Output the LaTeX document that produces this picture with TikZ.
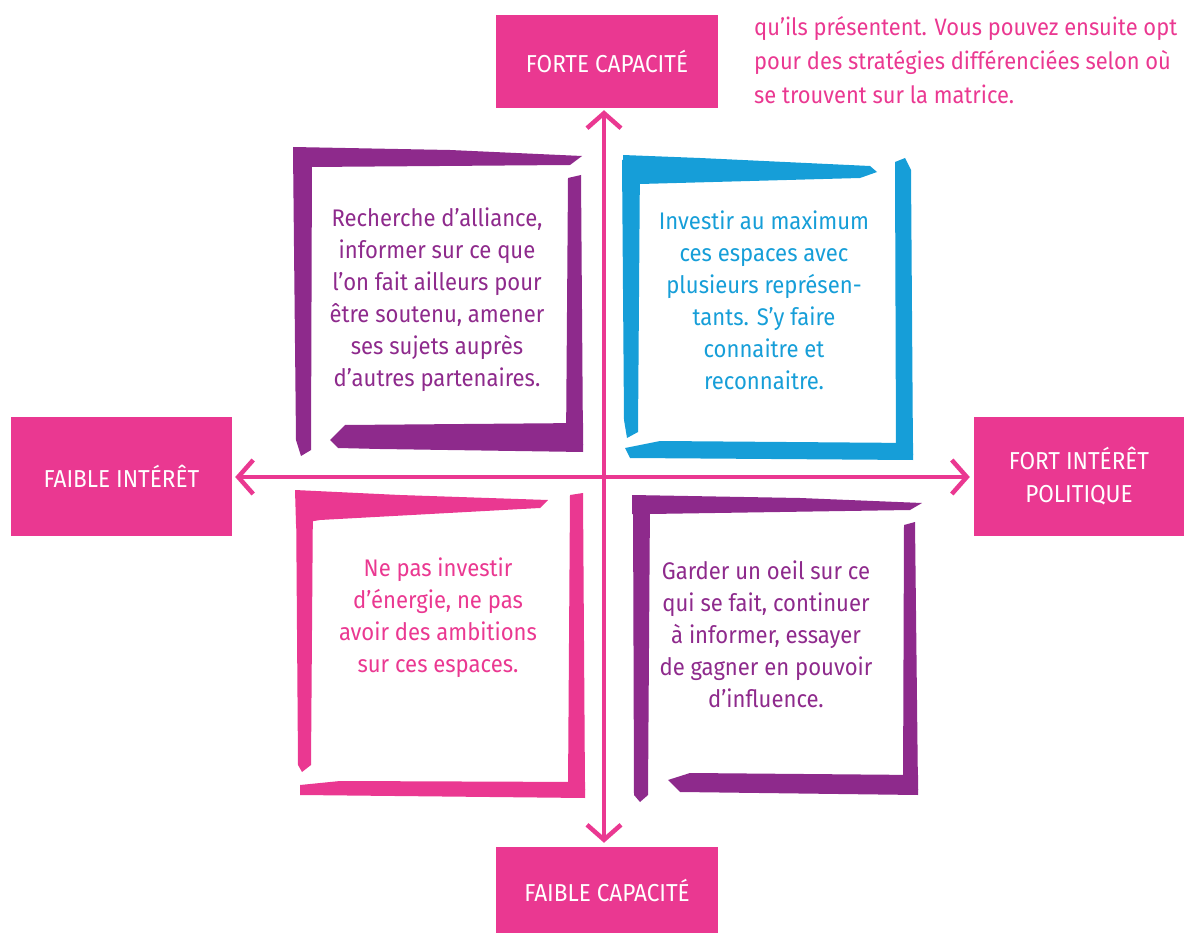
\documentclass[tikz,border=0pt]{standalone}
\usepackage{fontspec}
\setmainfont{Fira Sans}[FakeStretch=0.92]
\usetikzlibrary{arrows.meta}
\definecolor{mpink}{RGB}{234,56,145}
\definecolor{mpurple}{RGB}{142,42,140}
\definecolor{mblue}{RGB}{22,158,216}
\tikzset{
  labelbox/.style={fill=mpink, text=white, inner sep=0pt, align=center,
    font=\fontsize{24.5}{33}\selectfont},
  quadtext/.style={align=center, inner sep=0pt, font=\fontsize{24}{32}\selectfont},
  introtext/.style={anchor=base west, inner sep=0pt, text=mpink, font=\fontsize{23.8}{33}\selectfont},
  axis/.style={draw=mpink, line width=4pt,
    -{Straight Barb[length=15pt,width=34pt,line width=4.5pt]}},
}
\begin{document}
\begin{tikzpicture}[x=1pt,y=-1pt]
\useasboundingbox (0,0) rectangle (1184,933);

% top-right explanatory text (partly cut off)
\node[introtext] (t1) at (754,36) {qu’ils présentent. Vous pouvez ensuite opt};
\node[introtext] (t2) at (754,70) {pour des stratégies différenciées selon où};
\node[introtext] (t3) at (754,104) {se trouvent sur la matrice.};

% brush frames
% top-left purple
\fill[mpurple] (293,147) -- (450,150) -- (582,156) -- (570,165) -- (310,167) -- (293,168) -- cycle;
\fill[mpurple] (293,150) -- (312,152) -- (311,450) -- (301,456) -- (296,440) -- cycle;
\fill[mpurple] (568,178) -- (581,175) -- (583,445) -- (566,445) -- cycle;
\fill[mpurple] (330,440) -- (345,425) -- (583,423) -- (583,452) -- (380,449) -- (338,448) -- cycle;
% top-right blue
\fill[mblue] (623,155) -- (700,158) -- (870,166) -- (877,172) -- (860,178) -- (640,184) -- (623,185) -- cycle;
\fill[mblue] (622,160) -- (640,160) -- (638,432) -- (627,438) -- (624,420) -- cycle;
\fill[mblue] (895,162) -- (905,158) -- (911,170) -- (913,455) -- (896,455) -- cycle;
\fill[mblue] (625,448) -- (660,441) -- (913,443) -- (913,460) -- (630,458) -- cycle;
% bottom-left pink
\fill[mpink] (295,490) -- (400,495) -- (548,500) -- (540,508) -- (320,520) -- (296,524) -- cycle;
\fill[mpink] (296,495) -- (313,495) -- (311,765) -- (302,772) -- (298,765) -- cycle;
\fill[mpink] (570,495) -- (583,493) -- (585,790) -- (568,790) -- cycle;
\fill[mpink] (300,785) -- (340,781) -- (585,782) -- (585,798) -- (300,795) -- cycle;
% bottom-right purple
\fill[mpurple] (632,495) -- (800,498) -- (922,503) -- (910,510) -- (650,514) -- (632,514) -- cycle;
\fill[mpurple] (633,500) -- (650,500) -- (648,795) -- (640,802) -- (634,795) -- cycle;
\fill[mpurple] (904,525) -- (915,522) -- (918,790) -- (903,790) -- cycle;
\fill[mpurple] (668,780) -- (690,773) -- (918,775) -- (918,795) -- (680,792) -- cycle;

% label boxes
\node[labelbox, minimum width=222pt, minimum height=93pt] (top) at (607,61.5) {FORTE CAPACITÉ};
\node[labelbox, minimum width=222pt, minimum height=86pt] (bot) at (607,890) {FAIBLE CAPACITÉ};
\node[labelbox, minimum width=221pt, minimum height=119pt] (lft) at (121.5,476.5) {FAIBLE INTÉRÊT};
\node[labelbox, minimum width=210pt, minimum height=119pt] (rgt) at (1079,476.5) {FORT INTÉRÊT\\POLITIQUE};

% axes
\coordinate (c) at (604,477);
\draw[axis, shorten >=2pt] (c) -- (c |- top.south);
\draw[axis, shorten >=4pt] (c) -- (c |- bot.north);
\draw[axis, shorten >=3pt] (c) -- (lft.east |- c);
\draw[axis, shorten >=4pt] (c) -- (rgt.west |- c);

% quadrant texts
\node[quadtext, text=mpurple] (q1) at (437,300) {Recherche d’alliance,\\informer sur ce que\\l’on fait ailleurs pour\\être soutenu, amener\\ses sujets auprès\\d’autres partenaires.};
\node[quadtext, text=mblue] (q2) at (764,300) {Investir au maximum\\ces espaces avec\\plusieurs représen-\\tants. S’y faire\\connaitre et\\reconnaitre.};
\node[quadtext, text=mpink] (q3) at (438,618) {Ne pas investir\\d’énergie, ne pas\\avoir des ambitions\\sur ces espaces.};
\node[quadtext, text=mpurple] (q4) at (766,634) {Garder un oeil sur ce\\qui se fait, continuer\\à informer, essayer\\de gagner en pouvoir\\d’influence.};
\end{tikzpicture}
\end{document}
